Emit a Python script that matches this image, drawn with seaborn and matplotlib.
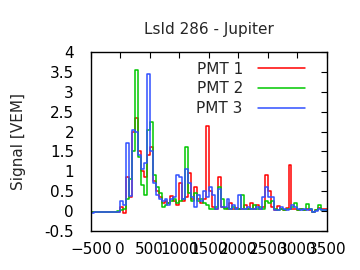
import numpy as np
import pandas as pd
import matplotlib
matplotlib.use("Agg")
import matplotlib.pyplot as plt
import seaborn as sns

# bin start times (ns), 50 ns bins
time = list(range(-500, 3500, 50))

pmt1 = [-0.03, -0.03, -0.03, -0.03, -0.02, -0.02, -0.02, -0.02, -0.02, -0.01,
        0.10, -0.05, 0.85, 0.35, 2.00, 2.35, 1.50, 1.00, 0.85, 1.40,
        1.60, 0.75, 0.50, 0.35, 0.20, 0.25, 0.20, 0.38, 0.25, 0.15,
        0.70, 0.25, 0.35, 0.95, 0.30, 0.60, 0.30, 0.20, 0.30, 2.15,
        0.50, 0.10, 0.05, 0.85, 0.10, 0.08, 0.05, 0.20, 0.05, 0.08,
        0.05, 0.05, 0.15, 0.05, 0.20, 0.05, 0.15, 0.05, 0.10, 0.90,
        0.50, 0.10, 0.03, 0.12, 0.05, 0.03, 0.08, 1.15, 0.05, 0.05,
        0.03, 0.05, 0.03, 0.05, 0.03, -0.03, 0.03, 0.08, 0.05, 0.05]
pmt2 = [-0.02, -0.02, -0.02, -0.02, -0.02, -0.02, -0.01, -0.01, -0.01, 0.00,
        0.03, 0.05, 0.30, 0.80, 1.50, 3.55, 1.35, 0.65, 0.40, 2.05,
        2.25, 0.90, 0.60, 0.45, 0.10, 0.15, 0.20, 0.25, 0.30, 0.20,
        0.25, 0.30, 1.60, 0.45, 0.25, 0.45, 0.25, 0.30, 0.20, 0.15,
        0.05, 0.05, 0.10, 0.60, 0.30, 0.05, 0.08, 0.05, 0.10, 0.05,
        0.05, 0.40, 0.05, 0.05, 0.05, 0.15, 0.05, 0.10, 0.05, 0.25,
        0.20, 0.25, 0.05, 0.03, 0.05, 0.03, 0.05, 0.05, 0.10, 0.20,
        0.03, 0.05, 0.03, 0.18, 0.05, -0.02, 0.02, 0.15, 0.02, 0.03]
pmt3 = [-0.05, -0.02, -0.02, -0.02, -0.01, -0.01, -0.01, -0.02, -0.01, -0.01,
        0.25, 0.15, 1.70, 0.37, 2.05, 2.00, 1.40, 1.05, 1.20, 3.45,
        1.50, 0.70, 0.40, 0.30, 0.25, 0.30, 0.15, 0.30, 0.35, 0.90,
        0.85, 0.30, 1.05, 0.70, 0.35, 0.10, 0.40, 0.25, 0.50, 0.35,
        0.60, 0.40, 0.05, 0.55, 0.10, 0.10, 0.30, 0.05, 0.15, 0.05,
        0.40, 0.05, 0.05, 0.10, 0.05, 0.05, 0.10, 0.05, 0.35, 0.60,
        0.35, 0.35, 0.03, 0.03, 0.10, 0.05, 0.03, 0.05, 0.15, 0.10,
        0.05, 0.03, 0.05, 0.03, 0.05, -0.03, 0.00, 0.05, 0.03, 0.02]

labels = ["PMT 1", "PMT 2", "PMT 3"]
colors = ["#ff0000", "#00c800", "#3050ff"]

sns.set_style("white")
plt.rcParams["font.family"] = ["DejaVu Sans"]

frames = []
for lab, vals in zip(labels, [pmt1, pmt2, pmt3]):
    t = time + [time[-1] + 50]
    v = vals + [vals[-1]]
    frames.append(pd.DataFrame({"t": t, "v": v, "pmt": lab}))
df = pd.concat(frames, ignore_index=True)

fig = plt.figure(figsize=(3.6, 2.7), dpi=100)
ax = fig.add_axes([0.252, 0.1444, 0.656, 0.6630])

sns.lineplot(data=df, x="t", y="v", hue="pmt", palette=colors,
             drawstyle="steps-post", linewidth=1.1, ax=ax, estimator=None,
             sort=False)

ax.set_xlim(-500, 3500)
ax.set_ylim(-0.5, 4)
ax.set_xticks(range(-500, 3501, 500))
ax.set_yticks(np.arange(-0.5, 4.01, 0.5))
ax.set_yticklabels(["-0.5", "0", "0.5", "1", "1.5", "2", "2.5", "3", "3.5", "4"])
ax.tick_params(direction="in", length=4, width=0.8, top=True, right=True,
               labelsize=11, colors="black")
ax.tick_params(axis="x", pad=8)
ax.tick_params(axis="y", pad=12)
for s in ax.spines.values():
    s.set_color("black")
    s.set_linewidth(1.0)
ax.set_xlabel("")
ax.set_ylabel("Signal [VEM]", fontsize=11, labelpad=13)
ax.set_title("LsId 286 - Jupiter", fontsize=11, pad=13)

ax.legend(loc="upper right", frameon=False, fontsize=11, markerfirst=False,
          handlelength=3.1, handletextpad=1.0, labelspacing=0.3,
          borderaxespad=0.0, bbox_to_anchor=(0.935, 0.98))

fig.savefig("out.png", dpi=100)
